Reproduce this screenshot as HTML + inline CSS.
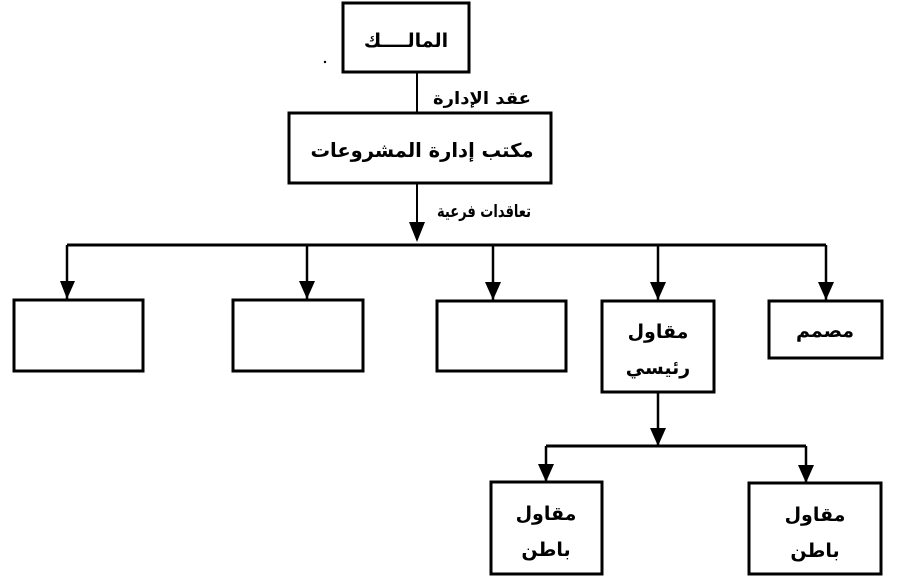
<!DOCTYPE html>
<html><head><meta charset="utf-8"><style>
html,body{margin:0;padding:0;background:#fff;}
svg{display:block}
text{font-family:"DejaVu Sans","Liberation Sans",sans-serif;font-weight:bold;fill:#000}
</style></head><body>
<svg width="913" height="584" viewBox="0 0 913 584" xmlns="http://www.w3.org/2000/svg">
<g fill="none" stroke="#000" stroke-width="3">
<rect x="343" y="3" width="126" height="69"/>
<rect x="289" y="113" width="262" height="70"/>
<rect x="14" y="300" width="129" height="71"/>
<rect x="233" y="300" width="130" height="71"/>
<rect x="437" y="301" width="129" height="70"/>
<rect x="602" y="301" width="112" height="91"/>
<rect x="769" y="301" width="113" height="57"/>
<rect x="491" y="482" width="111" height="92"/>
<rect x="749" y="483" width="132" height="91"/>
<line x1="417" y1="72" x2="417" y2="113" stroke-width="2"/>
<line x1="417" y1="183" x2="417" y2="240" stroke-width="2"/>
<line x1="67" y1="245" x2="826" y2="245"/>
<line x1="658" y1="392" x2="658" y2="446" stroke-width="2.5"/>
<line x1="546" y1="446" x2="806" y2="446"/>
<g stroke-width="2.5">
<line x1="67" y1="245" x2="67" y2="299"/>
<line x1="307" y1="245" x2="307" y2="299"/>
<line x1="493" y1="245" x2="493" y2="300"/>
<line x1="658" y1="245" x2="658" y2="300"/>
<line x1="826" y1="245" x2="826" y2="300"/>
<line x1="546" y1="446" x2="546" y2="481"/>
<line x1="806" y1="446" x2="806" y2="482"/>
</g>
</g>
<g fill="#000">
<path d="M409,222 L425,222 L417,242 z"/>
<path d="M60,281 L75,281 L67,299 z"/>
<path d="M299,281 L315,281 L307,299 z"/>
<path d="M485,282 L501,282 L493,300 z"/>
<path d="M650,282 L666,282 L658,300 z"/>
<path d="M818,282 L834,282 L826,300 z"/>
<path d="M650,428 L666,428 L658,446 z"/>
<path d="M538,464 L554,464 L546,482 z"/>
<path d="M798,465 L814,465 L806,483 z"/>
<circle cx="325" cy="62" r="1.2"/>
</g>
<g text-anchor="middle" direction="rtl" style="font-size:19px">
<text x="406" y="47">المالــــك</text>
<text x="422" y="157" style="font-size:19.5px">مكتب إدارة المشروعات</text>
<text x="658" y="338">مقاول</text>
<text x="658" y="374">رئيسي</text>
<text x="825" y="337">مصمم</text>
<text x="546" y="520">مقاول</text>
<text x="546" y="556">باطن</text>
<text x="815" y="521">مقاول</text>
<text x="815" y="557">باطن</text>
</g>
<g text-anchor="middle" direction="rtl" style="font-size:17px">
<text x="482" y="104" textLength="98" lengthAdjust="spacingAndGlyphs">عقد الإدارة</text>
<text x="484" y="217" textLength="94" lengthAdjust="spacingAndGlyphs">تعاقدات فرعية</text>
</g>
</svg>
</body></html>
